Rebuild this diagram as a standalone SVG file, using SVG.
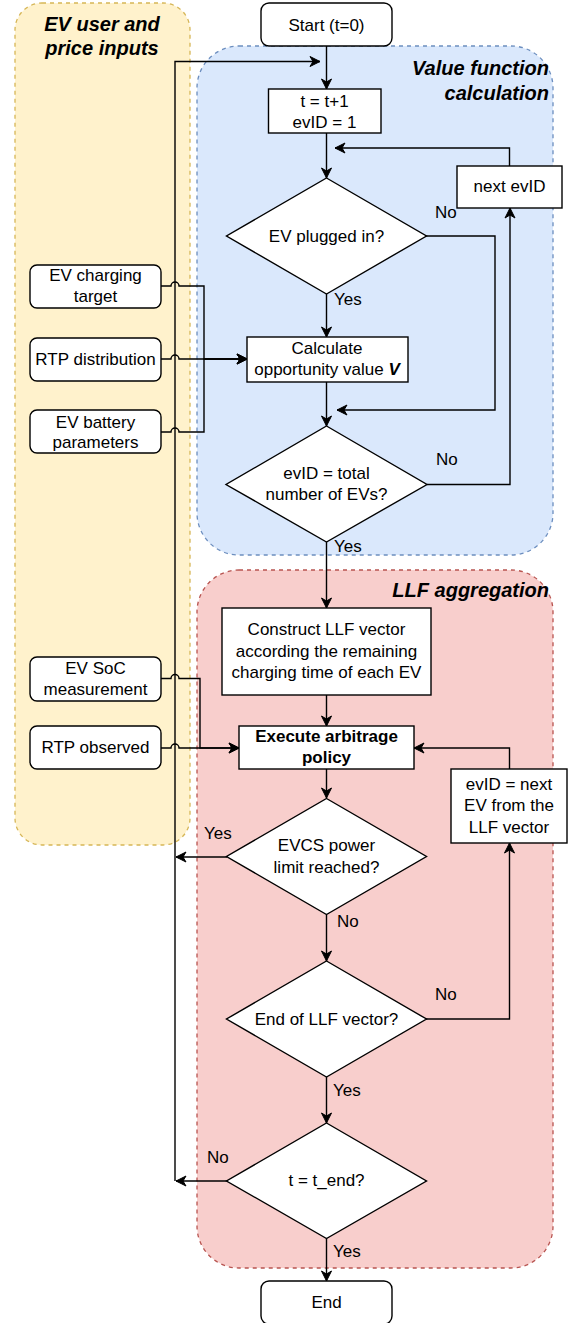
<svg xmlns="http://www.w3.org/2000/svg" width="574" height="1323" viewBox="0 0 574 1323">
<style>
text{font-family:"Liberation Sans",Arial,sans-serif;font-size:17px;fill:#000}
.c{text-anchor:middle}
.t{font-size:20px;font-weight:bold;font-style:italic}
.r{text-anchor:end}
.b{font-weight:bold}
.box{fill:#fff;stroke:#000;stroke-width:1.4}
.edge{fill:none;stroke:#000;stroke-width:1.4}
.ea{fill:none;stroke:#000;stroke-width:1.4;marker-end:url(#arr)}
</style>
<defs>
<marker id="arr" markerUnits="userSpaceOnUse" markerWidth="14" markerHeight="14" viewBox="-12 -7 14 14" refX="0" refY="0" orient="auto">
<path d="M0,0 L-10,-5 L-7,0 L-10,5 Z" fill="#000" stroke="#000" stroke-width="1" stroke-linejoin="miter"/>
</marker>
</defs>

<g id="containers">
<g id="grp-inputs">
<rect x="15" y="3" width="175" height="842" rx="27" ry="27" fill="#fff2cc" stroke="#d6b656" stroke-width="1.3" stroke-dasharray="4 4"/>
<text class="t c" x="102" y="31">EV user and</text>
<text class="t c" x="102" y="55">price inputs</text>
</g>
<g id="grp-value">
<rect x="197" y="46" width="356" height="509" rx="42" ry="42" fill="#dae8fc" stroke="#6c8ebf" stroke-width="1.3" stroke-dasharray="4 4"/>
<text class="t r" x="549" y="75">Value function</text>
<text class="t r" x="549" y="100">calculation</text>
</g>
<g id="grp-llf">
<rect x="197" y="570" width="356" height="698" rx="42" ry="42" fill="#f8cecc" stroke="#b85450" stroke-width="1.3" stroke-dasharray="4 4"/>
<text class="t r" x="549" y="597">LLF aggregation</text>
</g>
</g>

<g id="connectors">
<path class="ea" d="M326.5,46 V89"/>
<path class="ea" d="M326.5,133 V178"/>
<path class="ea" d="M509.5,166 V148 H335"/>
<path class="ea" d="M426,236 H495 V410 H337"/>
<path class="ea" d="M326.5,294 V337"/>
<path class="ea" d="M326.5,382 V426"/>
<path class="ea" d="M427,484.5 H510 V208"/>
<path class="ea" d="M326.5,542 V608"/>
<path class="ea" d="M326.5,695 V726"/>
<path class="ea" d="M326.5,769 V798"/>
<path class="ea" d="M227,857 H176"/>
<path class="ea" d="M326.5,914.5 V961"/>
<path class="ea" d="M426,1019 H509.5 V843"/>
<path class="ea" d="M509.5,769 V748 H414"/>
<path class="ea" d="M326.5,1077 V1123"/>
<path class="ea" d="M227,1181 H176"/>
<path class="ea" d="M175,1181 V61.5 H320"/>
<path class="ea" d="M326.5,1238 V1281"/>
<path class="ea" d="M161,286 H171 A4,4 0 0 1 179,286 H204 V359 H247"/>
<path class="ea" d="M161,359 H171 A4,4 0 0 1 179,359 H247"/>
<path class="ea" d="M161,432 H171 A4,4 0 0 1 179,432 H204 V359 H247"/>
<path class="ea" d="M161,678.5 H171 A4,4 0 0 1 179,678.5 H200 V748 H239"/>
<path class="ea" d="M161,748 H171 A4,4 0 0 1 179,748 H239"/>
<text x="435" y="218">No</text>
<text x="334" y="305">Yes</text>
<text x="436" y="465">No</text>
<text x="334" y="552">Yes</text>
<text x="204" y="839">Yes</text>
<text x="337" y="927">No</text>
<text x="435" y="1000">No</text>
<text x="333" y="1096">Yes</text>
<text x="207" y="1163">No</text>
<text x="333" y="1257">Yes</text>
</g>

<g id="start">
<rect class="box" x="261" y="3" width="131" height="43" rx="8"/>
<text class="c" x="326.5" y="30.5">Start (t=0)</text>
</g>
<g id="init">
<rect class="box" x="268.5" y="89" width="112.5" height="44"/>
<text class="c" x="324.5" y="107">t = t+1</text>
<text class="c" x="324.5" y="128">evID = 1</text>
</g>
<g id="next-evid">
<rect class="box" x="457" y="166" width="105" height="42"/>
<text class="c" x="509.5" y="192">next evID</text>
</g>
<g id="plugged">
<polygon class="box" points="326.5,178 426.5,236 326.5,294 226.5,236"/>
<text class="c" x="326.5" y="241.5">EV plugged in?</text>
</g>
<g id="calc">
<rect class="box" x="247" y="337" width="161" height="45"/>
<text class="c" x="327" y="353.5">Calculate</text>
<text class="c" x="327" y="375">opportunity value <tspan font-weight="bold" font-style="italic">V</tspan></text>
</g>
<g id="total">
<polygon class="box" points="326.5,426 427,484.5 326.5,542 226,484.5"/>
<text class="c" x="326.5" y="478.5">evID = total</text>
<text class="c" x="326.5" y="500">number of EVs?</text>
</g>
<g id="in-target">
<rect class="box" x="30" y="265" width="131" height="43" rx="7"/>
<text class="c" x="95.5" y="281">EV charging</text>
<text class="c" x="95.5" y="302">target</text>
</g>
<g id="in-rtpdist">
<rect class="box" x="30" y="338" width="131" height="43" rx="7"/>
<text class="c" x="95.5" y="364.5">RTP distribution</text>
</g>
<g id="in-battery">
<rect class="box" x="30" y="410" width="131" height="43" rx="7"/>
<text class="c" x="95.5" y="427.5">EV battery</text>
<text class="c" x="95.5" y="448">parameters</text>
</g>
<g id="in-soc">
<rect class="box" x="30" y="657" width="131" height="44" rx="7"/>
<text class="c" x="95.5" y="673.5">EV SoC</text>
<text class="c" x="95.5" y="694.5">measurement</text>
</g>
<g id="in-rtpobs">
<rect class="box" x="30" y="726" width="131" height="43" rx="7"/>
<text class="c" x="95.5" y="753">RTP observed</text>
</g>
<g id="construct">
<rect class="box" x="222" y="608" width="209" height="87"/>
<text class="c" x="326.5" y="635">Construct LLF vector</text>
<text class="c" x="326.5" y="656.5">according the remaining</text>
<text class="c" x="326.5" y="677.5">charging time of each EV</text>
</g>
<g id="execute">
<rect class="box" x="239" y="726" width="175" height="43"/>
<text class="c b" x="326.5" y="741.5">Execute arbitrage</text>
<text class="c b" x="326.5" y="763">policy</text>
</g>
<g id="evcs">
<polygon class="box" points="326.5,798.5 426.5,856.5 326.5,914.5 226.5,856.5"/>
<text class="c" x="326.5" y="851">EVCS power</text>
<text class="c" x="326.5" y="872.5">limit reached?</text>
</g>
<g id="next-llf">
<rect class="box" x="451" y="769" width="116" height="74"/>
<text class="c" x="509" y="789.5">evID = next</text>
<text class="c" x="509" y="811">EV from the</text>
<text class="c" x="509" y="832.5">LLF vector</text>
</g>
<g id="end-llf">
<polygon class="box" points="326.5,961 426.5,1019 326.5,1077 226.5,1019"/>
<text class="c" x="326.5" y="1024.5">End of LLF vector?</text>
</g>
<g id="tend">
<polygon class="box" points="326.5,1123 426.5,1181 326.5,1238.5 226.5,1181"/>
<text class="c" x="326.5" y="1186">t = t_end?</text>
</g>
<g id="end">
<rect class="box" x="261" y="1281" width="131" height="43" rx="8"/>
<text class="c" x="326.5" y="1307.5">End</text>
</g>
</svg>
